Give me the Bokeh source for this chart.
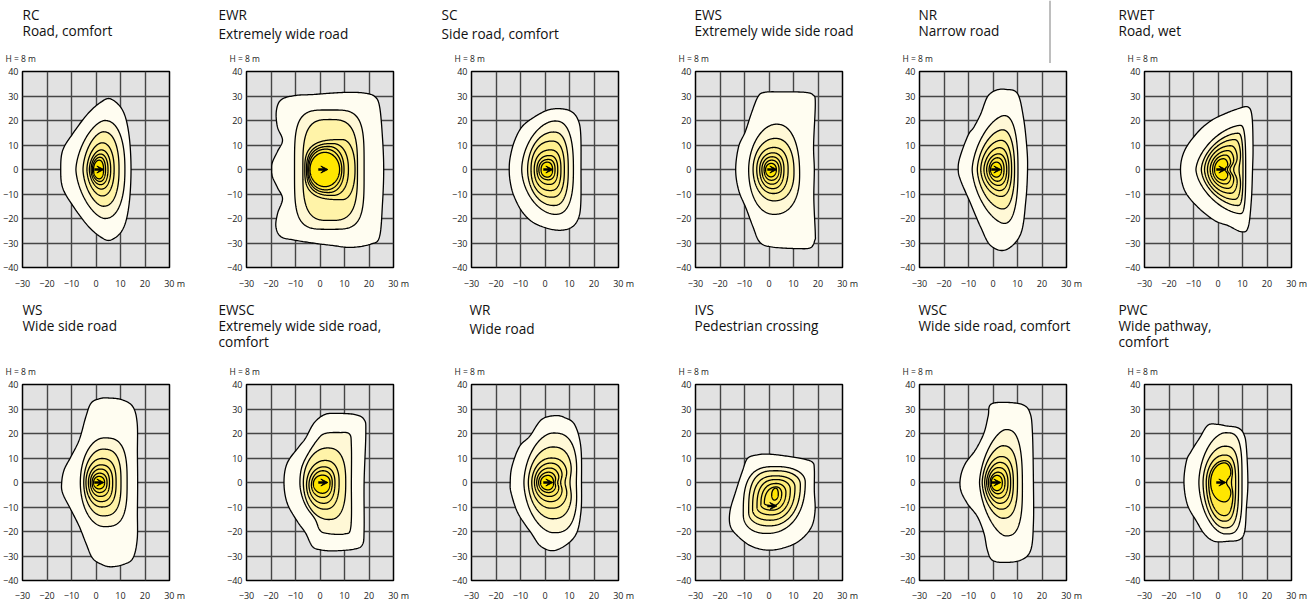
import numpy as np
from bokeh.plotting import figure
from bokeh.layouts import column, row
from bokeh.models import Arrow, VeeHead, FixedTicker, Range1d
from bokeh.core.properties import value
from bokeh.embed import file_html
from bokeh.resources import INLINE

# ---------------- data ----------------
X_TICKS = [-30, -20, -10, 0, 10, 20, 30]
Y_TICKS = [-40, -30, -20, -10, 0, 10, 20, 30, 40]
X_UNIT = "m"
CODES = ["RC", "EWR", "SC", "EWS", "NR", "RWET", "WS", "EWSC", "WR", "IVS", "WSC", "PWC"]
NAMES = [["Road, comfort"], ["Extremely wide road"], ["Side road, comfort"],
         ["Extremely wide side road"], ["Narrow road"], ["Road, wet"],
         ["Wide side road"], ["Extremely wide side road,", "comfort"], ["Wide road"],
         ["Pedestrian crossing"], ["Wide side road, comfort"], ["Wide pathway,", "comfort"]]
MOUNT = "H = 8 m"
LAMP_X = [0, 0, 0, 0, 0, 0, 0, 0, 0, 0, 0, 0]
LAMP_Y = [0, 0, 0, 0, 0, 0, 0, 0, 0, -9.6, 0, 0]
LEVEL_COLORS = ["#fffdf1", "#fff8d6", "#fff3a8", "#ffef8e", "#ffec78", "#ffea62", "#ffe84a", "#ffe600"]

# outer isolines as read points (m)
RC_outer_x = [14.3, 13.4, 10.9, 6, 2, -3.4, -9.5, -13.6, -14.4, -13.6, -9.5, -3.4, 2, 6, 10.9, 13.4]
RC_outer_y = [0, 14.6, 24.1, 28.8, 27.5, 22.7, 14.6, 7.8, 0, -7.5, -14.7, -22.9, -27.6, -28.8, -24.5, -15]
EWR_outer_x = [26, 25.5, 24.3, 22.2, 18, 12, 5, -3, -10, -15.8, -17.8, -17.4, -15.3, -17.3, -19.4, -19.7, -19.4,
               -17.3, -15.3, -17.3, -18, -16, -10.5, -3, 5, 12.7, 20.9, 24.3, 25.5]
EWR_outer_y = [0, 13, 25.8, 29.9, 31.2, 31.5, 31.2, 30.6, 30.2, 28.5, 24, 17.5, 12, 7.5, 3, 0, -3, -7.5, -12,
               -17.9, -23.3, -27.4, -28.8, -30, -31, -31.8, -30.4, -27.4, -14]
SC_outer_x = [14.7, 14.6, 13.6, 11, 6.5, 1, -5, -9.5, -12.5, -14.2, -14.6, -14.2, -12.8, -9.5, -5, 1, 6.5, 11, 13.6, 14.6]
SC_outer_y = [0, 14, 20, 23.5, 24.8, 24.2, 21, 17.3, 11.5, 5, 0, -5, -10.5, -17, -21.5, -24, -24.8, -23.5, -20, -14]
EWS_outer_x = [18.5, 18.2, 18.9, 18, 14.6, 5, -1.8, -4.5, -7.2, -9.7, -12.4, -13.6, -12.4, -9.3, -6.5, -3.8, 1,
               11.9, 17, 18.7, 18.9, 18.3]
EWS_outer_y = [0, 10, 27, 30.4, 31.5, 31.7, 31.5, 29.7, 22.9, 15.4, 9.3, 0, -8.4, -16, -23.5, -29.6, -31.6,
               -32.3, -31.9, -28.9, -26.2, -12]
NR_outer_x = [14.1, 13.8, 12.4, 10, 5.2, 1.1, -2.3, -5, -7.8, -10.2, -13.5, -14.2, -13.2, -9.1, -5, -1, 5.2, 11.3, 13.4]
NR_outer_y = [0, 9.1, 21.4, 31, 32.7, 32.3, 29.6, 22.7, 17.3, 13.9, 5, 0, -4.5, -14, -23.6, -31, -32.8, -26.3, -12.7]
RWET_outer_x = [14.1, 14.3, 13.9, 12.3, 8.2, 2.7, -2.7, -8.2, -13.6, -15.3, -13.6, -8.2, -1.4, 4.1, 9.5, 12.3, 13.6]
RWET_outer_y = [0, 9.1, 21.4, 25.5, 24.8, 22.7, 20, 15.3, 7.8, 0, -8.6, -15.4, -20.8, -22.9, -25.4, -23.6, -12.7]
WS_outer_x = [17, 16.9, 16.8, 15, 10.5, 4.8, 1.4, -2, -4.1, -6.8, -10.2, -13, -14, -13.6, -10.2, -6.8, -4.1,
              -1.4, 2.5, 6.1, 11, 15, 16.8, 16.9]
WS_outer_y = [0, 12, 24.3, 31, 33.8, 34.5, 34.2, 32.4, 27, 17.5, 10.6, 5.2, 0, -4.4, -11.2, -18, -24.8, -30.9,
              -33.5, -34.4, -33.5, -31, -23.4, -12]
EWSC_outer_x = [18, 18.7, 18, 13.9, 5.7, 1.6, -2.5, -5.9, -8.6, -13.4, -14.7, -13.4, -9.3, -5.9, -3.1, 0.3, 5.7,
                13.9, 17.3, 18]
EWSC_outer_y = [0, 20.2, 25.7, 27.8, 28.2, 27.6, 24.2, 18.1, 14.6, 7.9, 0, -8.4, -15.8, -20.6, -26.1, -27.5,
                -27.9, -27.2, -25.4, -19.4]
EWSC_second_x = [12.8, 12.8, 12, 8, 2, -1, -5, -7.5, -8.2, -7.5, -5.5, -2, 0, 3, 10, 12.6]
EWSC_second_y = [0, 15, 19.8, 20.4, 20, 17.5, 11.5, 6, 0, -5, -10, -15, -19.5, -20.8, -21, -18]
WR_outer_x = [14.9, 14.6, 12.1, 8, 4, -1.5, -6.3, -10.4, -13.5, -14.2, -13.8, -11, -5.6, -1.5, 4.6, 12.1, 14.6]
WR_outer_y = [0, 14.7, 23.6, 26.5, 27.3, 25.6, 18.8, 14.7, 6.5, 0, -4.4, -12.6, -20.7, -26.2, -27.6, -22.1, -12.6]
IVS_outer_x = [18.5, 18.5, 17.8, 14.4, 6.3, -0.5, -4.6, -8.7, -10.8, -13.5, -15.9, -15.8, -12.8, -7.4, -0.5,
               6.3, 12.4, 17.2, 18.8]
IVS_outer_y = [-3.4, 5.4, 8.2, 9.5, 10.9, 11.6, 11.3, 9.9, 4.8, -3.4, -11.6, -17.7, -21.8, -25.9, -27.6,
               -26.6, -23.8, -18.4, -11.6]
WSC_outer_x = [16.5, 16.1, 15.1, 12, 4.5, -1, -2, -3.7, -7.1, -11.2, -13.2, -13.2, -10.5, -6.4, -3.7, -2.3,
               -0.3, 4.5, 11.3, 15.4, 16.5]
WSC_outer_y = [0, 20.2, 28.4, 31.8, 32.7, 31.8, 27, 20.2, 13.4, 7.9, 2.5, -3, -8.5, -13.9, -20.7, -27.6,
               -31.7, -32.6, -31.7, -27.6, -16.6]
PWC_outer_x = [12.2, 11.6, 10.6, 8.2, 3.4, 0, -4.1, -7.5, -10.9, -12.9, -13.9, -12.5, -8.8, -5.4, -1.4, 4.1,
               8.8, 10.9, 11.6]
PWC_outer_y = [0, 14.1, 19.6, 22.3, 23.1, 23.7, 23.4, 18.2, 12.8, 8.7, 0, -9, -15.8, -21.2, -24, -24, -23.3,
               -19.9, -10.3]

# inner isolines: right x, y at right, x at top, top y, left x, y at left, x at bottom, bottom y,
# squareness NE, NW, SW, SE, right-side notch depth
RC_inner = [
    [11.8, 0, 3.5, 20.0, -8.2, 0, 3.5, -20.0, 2.3, 1.6, 1.6, 2.3, 0],
    [9.4, 0, 3.0, 15.4, -5.3, 0, 3.0, -15.0, 2.3, 1.7, 1.7, 2.3, 0],
    [7.4, 0, 2.5, 10.9, -3.7, 0, 2.5, -10.8, 2.2, 1.8, 1.8, 2.2, 0],
    [6.0, 0, 2.1, 8.0, -2.7, 0, 2.1, -8.0, 2.2, 1.8, 1.8, 2.2, 0],
    [4.9, 0, 1.8, 6.3, -2.0, 0, 1.8, -6.2, 2.2, 1.9, 1.9, 2.2, 0],
    [3.9, 0, 1.6, 5.0, -1.5, 0, 1.6, -4.9, 2.2, 1.9, 1.9, 2.2, 0],
    [3.1, 0, 1.3, 3.8, -1.0, 0, 1.3, -3.8, 2.2, 2.0, 2.0, 2.2, 0]]
EWR_inner = [
    [18.0, 0, 4.0, 24.3, -10.4, 0, 4.0, -24.4, 4, 4, 4, 4, 0],
    [15.3, 0, 4.0, 20.4, -7.0, 0, 4.0, -20.8, 3.2, 3.2, 3.2, 3.2, 0],
    [14.3, 0, 9.0, 12.2, -6.2, 0, 9.0, -12.3, 2.2, 3.0, 3.0, 2.2, 0],
    [11.6, 0, 5.0, 10.6, -5.5, 0, 5.0, -10.6, 2.3, 2.6, 2.6, 2.3, 0],
    [9.8, 0, 3.5, 9.4, -5.0, 0, 3.5, -9.4, 2.2, 2.4, 2.4, 2.2, 0],
    [8.9, 0, 2.5, 8.3, -4.6, 0, 2.5, -8.3, 2.1, 2.2, 2.2, 2.1, 0],
    [8.0, 0, 2.0, 7.0, -4.1, 0, 2.0, -7.0, 2, 2, 2, 2, 0]]
SC_inner = [
    [11.6, 0, 4.0, 19.8, -9.5, 0, 4.0, -18.3, 2.6, 1.8, 1.8, 2.6, 0],
    [9.5, 0, 3.5, 15.3, -7.1, 0, 3.5, -14.7, 2.5, 2.0, 2.0, 2.5, 0],
    [7.9, 0, 2.8, 11.6, -5.7, 0, 2.8, -11.3, 2.5, 2.2, 2.2, 2.5, 0],
    [6.5, 0, 2.2, 8.0, -4.4, 0, 2.2, -8.6, 2.5, 2.2, 2.2, 2.5, 0],
    [5.2, 0, 1.8, 5.7, -3.3, 0, 1.8, -6.1, 2.4, 2.2, 2.2, 2.4, 0],
    [4.1, 0, 1.4, 4.1, -2.5, 0, 1.4, -4.2, 2.3, 2.2, 2.2, 2.3, 0],
    [3.1, 0, 1.0, 3.0, -1.6, 0, 1.0, -3.1, 2.2, 2.2, 2.2, 2.2, 0]]
EWS_inner = [
    [12.5, -2, 3.0, 18.5, -8.3, 0, 2.0, -18.3, 2.3, 1.9, 2.1, 2.3, 0],
    [10.2, -1, 2.5, 12.7, -6.5, 0, 2.0, -12.8, 2.3, 2.0, 2.0, 2.3, 0],
    [7.8, 0, 2.0, 9.0, -5.0, 0, 1.8, -9.8, 2.3, 2.1, 2.1, 2.3, 0],
    [6.1, 0, 1.6, 6.8, -3.8, 0, 1.5, -7.8, 2.3, 2.1, 2.1, 2.3, 0],
    [5.0, 0, 1.3, 5.2, -2.9, 0, 1.2, -6.0, 2.2, 2.1, 2.1, 2.2, 0],
    [4.1, 0, 1.1, 3.8, -2.0, 0, 1.0, -4.4, 2.2, 2.1, 2.1, 2.2, 0],
    [3.0, 0, 0.9, 2.5, -1.4, 0, 0.8, -3.0, 2.1, 2.0, 2.0, 2.1, 0]]
NR_inner = [
    [10.2, 0, 4.5, 22.0, -8.5, 0, 4.5, -22.0, 2.4, 1.6, 1.6, 2.4, 0],
    [8.8, 0, 3.8, 16.2, -6.4, 0, 3.8, -16.1, 2.3, 1.7, 1.7, 2.3, 0],
    [7.6, 0, 3.2, 11.9, -5.0, 0, 3.2, -11.0, 2.3, 1.8, 1.8, 2.3, 0],
    [6.5, 0, 2.6, 8.9, -3.7, 0, 2.6, -8.6, 2.3, 1.8, 1.8, 2.3, 0],
    [5.6, 0, 2.2, 6.4, -2.6, 0, 2.2, -6.5, 2.2, 1.9, 1.9, 2.2, 0],
    [4.5, 0, 1.8, 4.8, -1.6, 0, 1.8, -4.8, 2.2, 1.9, 1.9, 2.2, 0],
    [3.5, 0, 1.4, 3.0, -1.0, 0, 1.4, -3.1, 2.1, 2.0, 2.0, 2.1, 0]]
RWET_inner = [
    [11.3, 0, 9.0, 18.0, -9.0, 0, 9.0, -18.0, 3.0, 1.6, 1.6, 3.0, 0],
    [10.2, 0, 8.0, 14.8, -6.8, 0, 8.0, -14.7, 3.0, 1.7, 1.7, 3.0, 0],
    [9.4, 0, 6.5, 12.2, -5.5, 0, 6.5, -12.2, 2.8, 1.8, 1.8, 2.8, 0.8],
    [8.2, 0, 5.0, 9.7, -4.3, 0, 5.0, -9.7, 2.5, 1.9, 1.9, 2.5, 1.8],
    [6.8, 0, 4.0, 7.7, -3.2, 0, 4.0, -7.7, 2.4, 1.9, 1.9, 2.4, 1.9],
    [5.5, 0, 3.0, 5.9, -2.2, 0, 3.0, -5.9, 2.3, 2.0, 2.0, 2.3, 1.7],
    [4.3, 0, 2.2, 4.4, -1.4, 0, 2.2, -4.3, 2.2, 2.0, 2.0, 2.2, 1.4]]
WS_inner = [
    [12.7, 0, 3.4, 18.2, -6.4, 0, 3.4, -18.0, 3.0, 2.0, 2.0, 3.0, 0],
    [10.2, 0, 2.8, 13.6, -5.0, 0, 2.8, -13.6, 2.8, 2.0, 2.0, 2.8, 0],
    [8.2, 0, 2.3, 9.8, -4.1, 0, 2.3, -10.0, 2.6, 2.0, 2.0, 2.6, 0],
    [6.8, 0, 2.0, 7.2, -3.1, 0, 2.0, -7.8, 2.5, 2.0, 2.0, 2.5, 0],
    [5.5, 0, 1.7, 5.5, -2.3, 0, 1.7, -5.7, 2.4, 2.0, 2.0, 2.4, 0],
    [4.5, 0, 1.4, 3.8, -1.6, 0, 1.4, -4.1, 2.3, 2.0, 2.0, 2.3, 0],
    [3.5, 0, 1.2, 2.5, -1.0, 0, 1.2, -2.6, 2.2, 2.0, 2.0, 2.2, 0]]
EWSC_inner = [
    [10.5, 0, 3.0, 14.1, -6.8, 0, 3.5, -15.1, 2.6, 2.0, 2.0, 2.6, 0],
    [7.8, 0, 2.0, 9.0, -5.5, -1, 2.0, -10.9, 2.4, 2.0, 2.0, 2.4, 0],
    [6.1, 0, 1.5, 6.4, -4.5, -1, 1.5, -8.5, 2.3, 2.0, 2.0, 2.3, 0],
    [5.0, 0, 1.2, 4.8, -3.5, -1, 1.2, -6.1, 2.2, 2.0, 2.0, 2.2, 0],
    [4.1, 0, 1.0, 3.0, -2.7, -0.5, 1.0, -4.4, 2.2, 2.0, 2.0, 2.2, 0]]
WR_inner = [
    [13.2, 0, 3.3, 20.2, -8.6, 0, 3.5, -20.5, 2.8, 1.8, 1.8, 2.8, 0.4],
    [11.2, 0, 3.0, 14.5, -6.8, 0, 3.0, -14.8, 2.6, 1.9, 1.9, 2.6, 1.0],
    [9.4, 0, 2.5, 10.0, -5.4, 0, 2.5, -10.5, 2.5, 2.0, 2.0, 2.5, 1.2],
    [7.4, 0, 2.2, 7.9, -4.3, 0, 2.2, -7.8, 2.4, 2.0, 2.0, 2.4, 1.0],
    [6.0, 0, 1.8, 5.9, -3.4, 0, 1.8, -5.7, 2.3, 2.0, 2.0, 2.3, 0.8],
    [4.6, 0, 1.5, 4.2, -2.6, 0, 1.5, -4.1, 2.2, 2.0, 2.0, 2.2, 0.5],
    [3.5, 0, 1.2, 2.9, -1.8, 0, 1.2, -3.0, 2.2, 2.0, 2.0, 2.2, 0]]
IVS_inner = [
    [14.8, 0, 3.0, 6.5, -10.5, -13, -1.0, -20.8, 2.2, 3.0, 2.2, 2.2, 0],
    [12.8, -1, 3.0, 4.8, -8.3, -12, 0.0, -17.7, 2.2, 3.0, 2.2, 2.2, 0],
    [10.6, -2, 3.0, 2.7, -6.7, -11, 0.5, -15.4, 2.2, 2.8, 2.2, 2.2, 0],
    [8.7, -3, 3.0, 1.2, -4.9, -10, 1.0, -13.2, 2.2, 2.6, 2.2, 2.2, 0],
    [6.9, -4, 3.0, -0.4, -3.3, -9, 1.3, -11.3, 2.1, 2.4, 2.1, 2.1, 0],
    [5.2, -4.5, 3.0, -1.8, -1.9, -8.5, 1.5, -9.5, 2.0, 2.2, 2.0, 2.0, 0],
    [3.8, -4.7, 2.8, -2.3, 1.1, -5.0, 2.2, -7.2, 2.0, 2.0, 2.0, 2.0, 0]]
WSC_inner = [
    [12.0, -2, 5.2, 21.6, -5.5, 0, 5.2, -21.8, 2.8, 1.6, 1.6, 2.8, 0],
    [10.0, 0, 4.0, 15.0, -4.4, 0, 4.0, -14.6, 2.6, 1.7, 1.7, 2.6, 0],
    [8.3, 0, 3.2, 10.6, -3.4, 0, 3.2, -10.9, 2.5, 1.8, 1.8, 2.5, 0],
    [7.2, 0, 2.7, 8.2, -2.6, 0, 2.7, -8.5, 2.4, 1.8, 1.8, 2.4, 0],
    [6.1, 0, 2.3, 6.1, -1.9, 0, 2.3, -6.4, 2.3, 1.9, 1.9, 2.3, 0],
    [4.9, 0, 2.0, 4.2, -1.2, 0, 2.0, -4.6, 2.2, 1.9, 1.9, 2.2, 0],
    [3.8, 0, 1.6, 2.9, -0.7, 0, 1.6, -3.3, 2.2, 2.0, 2.0, 2.2, 0]]
PWC_inner = [
    [9.8, 0, 3.0, 20.3, -7.8, 0, 3.0, -21.0, 3.5, 1.8, 1.8, 3.5, 0],
    [8.4, 0, 2.7, 14.8, -6.1, 0, 2.7, -18.5, 3.0, 1.9, 1.9, 3.0, 0],
    [7.2, 0, 2.5, 11.2, -4.8, 0, 2.5, -15.8, 2.8, 2.0, 2.0, 2.8, 0],
    [6.3, 0, 2.5, 8.9, -3.8, 0, 2.5, -13.5, 2.6, 2.0, 2.0, 2.6, 0.8],
    [5.7, 0, 2.6, 8.0, -3.0, 0, 2.6, -7.9, 2.3, 2.0, 2.0, 2.3, 2.2]]

FULL_LEVELS = [1, 2, 3, 4, 5, 6, 7, 8]
PANELS = [
    ([(RC_outer_x, RC_outer_y)], RC_inner, FULL_LEVELS),
    ([(EWR_outer_x, EWR_outer_y)], EWR_inner, FULL_LEVELS),
    ([(SC_outer_x, SC_outer_y)], SC_inner, FULL_LEVELS),
    ([(EWS_outer_x, EWS_outer_y)], EWS_inner, FULL_LEVELS),
    ([(NR_outer_x, NR_outer_y)], NR_inner, FULL_LEVELS),
    ([(RWET_outer_x, RWET_outer_y)], RWET_inner, FULL_LEVELS),
    ([(WS_outer_x, WS_outer_y)], WS_inner, FULL_LEVELS),
    ([(EWSC_outer_x, EWSC_outer_y), (EWSC_second_x, EWSC_second_y)], EWSC_inner, [1, 2, 3, 4, 5, 7, 8]),
    ([(WR_outer_x, WR_outer_y)], WR_inner, FULL_LEVELS),
    ([(IVS_outer_x, IVS_outer_y)], IVS_inner, FULL_LEVELS),
    ([(WSC_outer_x, WSC_outer_y)], WSC_inner, FULL_LEVELS),
    ([(PWC_outer_x, PWC_outer_y)], PWC_inner, [1, 2, 3, 5, 7, 8]),
]

# ---------------- geometry helpers (drawing only) ----------------
def smooth_closed(xs, ys, k=14):
    P = np.column_stack([xs, ys]).astype(float)
    n = len(P)
    t = np.linspace(0, 1, k, endpoint=False)[:, None]
    out = []
    for i in range(n):
        p0, p1, p2, p3 = P[i - 1], P[i], P[(i + 1) % n], P[(i + 2) % n]
        out.append(0.5 * (2 * p1 + (-p0 + p2) * t + (2 * p0 - 5 * p1 + 4 * p2 - p3) * t ** 2
                          + (-p0 + 3 * p1 - 3 * p2 + p3) * t ** 3))
    Q = np.vstack(out)
    return list(Q[:, 0]), list(Q[:, 1])


def quad_oval(r, yr, xt, t, l, yl, xb, b, pne, pnw, psw, pse, notch, n=60):
    th = np.linspace(0, np.pi / 2, n, endpoint=False)
    c, s = np.cos(th), np.sin(th)
    e = lambda v, p: v ** (2.0 / p)
    xs = np.concatenate([xt + (r - xt) * e(c, pne), xt - (xt - l) * e(s, pnw),
                         xb - (xb - l) * e(c, psw), xb + (r - xb) * e(s, pse)])
    ys = np.concatenate([yr + (t - yr) * e(s, pne), yl + (t - yl) * e(c, pnw),
                         yl - (yl - b) * e(s, psw), yr - (yr - b) * e(c, pse)])
    if notch:
        w = 0.16 * (t - b)
        mid = 0.5 * (xt + xb)
        k = np.clip((xs - mid) / (r - mid), 0, 1)
        xs = xs - notch * np.exp(-((ys - yr) / w) ** 2) * k
    return list(xs), list(ys)


# ---------------- layout (pixels) ----------------
FONT = "Open Sans"
FRAME_W, FRAME_H = 147, 196
PITCH = 224.3
LEFT_B, LAST_RIGHT_B, TOP_B = 22, 17, 8
BOTTOM_B = [29, 21]
X_STANDOFF = [9, 8]
HEADER_H = [63, 80]
TITLE_X = [[22, 218, 441, 694, 918, 1118], [22, 218, 469, 694, 918, 1118]]
TITLE_Y = [14, 13]
SUB_Y = [[30, 33, 33, 30, 30, 30], [29, 29, 32, 29, 29, 29]]
LINE_STEP = 16
MOUNT_DY = 13

widths = []
for col in range(6):
    if col < 5:
        widths.append(round((col + 1) * PITCH) - round(col * PITCH))
    else:
        widths.append(LEFT_B + FRAME_W + LAST_RIGHT_B)
ROW_W = sum(widths)
frame_left = [LEFT_B + sum(widths[:c]) for c in range(6)]

# "30 m": pad with figure spaces so "30" stays centred on its tick
LABEL_OVERRIDES = {X_TICKS[-1]: "\u2007\u2007" + str(X_TICKS[-1]) + " " + X_UNIT}


def make_header(rw):
    H = HEADER_H[rw]
    h = figure(width=ROW_W, height=H, x_range=Range1d(0, ROW_W), y_range=Range1d(H, 0),
               min_border=0, toolbar_location=None, output_backend="svg",
               x_axis_type=None, y_axis_type=None)
    h.outline_line_color = None
    tx, ty, tt = [], [], []
    sx, sy, st = [], [], []
    mx, my, mt = [], [], []
    for col in range(6):
        i = rw * 6 + col
        tx.append(TITLE_X[rw][col]); ty.append(TITLE_Y[rw]); tt.append(CODES[i])
        for j, line in enumerate(NAMES[i]):
            sx.append(TITLE_X[rw][col]); sy.append(SUB_Y[rw][col] + j * LINE_STEP); st.append(line)
        mx.append(frame_left[col] - 17); my.append(H + TOP_B - MOUNT_DY); mt.append(MOUNT)
    h.text(x=tx + sx, y=ty + sy, text=tt + st, text_font=value(FONT), text_font_size="13.6px",
           text_baseline="middle", text_align="left", text_color="#111111")
    h.text(x=mx, y=my, text=mt, text_font=value(FONT), text_font_size="8.5px",
           text_baseline="middle", text_align="left", text_color="#222222")
    if rw == 0:
        # thin grey rule that runs down to the NR panel in the source page
        rx = frame_left[4] + 130.5
        h.segment(x0=[rx], y0=[0], x1=[rx], y1=[H], line_color="#a8a8a8", line_width=1.5)
    return h


figs = []
for i in range(12):
    col, rw = i % 6, i // 6
    right_b = widths[col] - LEFT_B - FRAME_W
    p = figure(frame_width=FRAME_W, frame_height=FRAME_H, x_range=(-30, 30), y_range=(-40, 40),
               min_border_left=LEFT_B, min_border_right=right_b, min_border_top=TOP_B,
               min_border_bottom=BOTTOM_B[rw], output_backend="svg", toolbar_location=None,
               background_fill_color="#e2e2e2", border_fill_color="white")
    p.outline_line_color = "black"
    p.outline_line_width = 1.5
    p.xaxis.ticker = FixedTicker(ticks=X_TICKS)
    p.yaxis.ticker = FixedTicker(ticks=Y_TICKS)
    p.xgrid.ticker = FixedTicker(ticks=X_TICKS)
    p.ygrid.ticker = FixedTicker(ticks=Y_TICKS)
    p.xaxis.major_label_overrides = LABEL_OVERRIDES
    p.grid.grid_line_color = "#454545"
    p.grid.grid_line_width = 1.4
    p.axis.axis_line_color = None
    p.axis.major_tick_line_color = None
    p.axis.minor_tick_line_color = None
    p.axis.major_tick_out = 0
    p.axis.major_tick_in = 0
    p.axis.minor_tick_out = 0
    p.axis.major_label_text_font = FONT
    p.axis.major_label_text_font_size = "9px"
    p.axis.major_label_text_color = "#222222"
    p.xaxis.major_label_standoff = X_STANDOFF[rw]
    p.yaxis.major_label_standoff = 4

    paths, inner, levels = PANELS[i]
    xs_list, ys_list = [], []
    for (px, py) in paths:
        qx, qy = smooth_closed(px, py)
        xs_list.append(qx); ys_list.append(qy)
    for ov in inner:
        qx, qy = quad_oval(*ov)
        xs_list.append(qx); ys_list.append(qy)
    colors = [LEVEL_COLORS[lv - 1] for lv in levels]
    p.patches(xs=xs_list, ys=ys_list, fill_color=colors, line_color="black", line_width=1.3)

    lx, ly = LAMP_X[i], LAMP_Y[i]
    p.add_layout(Arrow(end=VeeHead(size=7, fill_color="black", line_color="black", line_width=1),
                       x_start=lx - 0.7, y_start=ly, x_end=lx + 3.2, y_end=ly,
                       line_width=2.6, line_color="black"))
    figs.append(p)

layout = column(make_header(0), row(*figs[:6]), make_header(1), row(*figs[6:]))
open("out.html", "w").write(file_html(layout, INLINE))
